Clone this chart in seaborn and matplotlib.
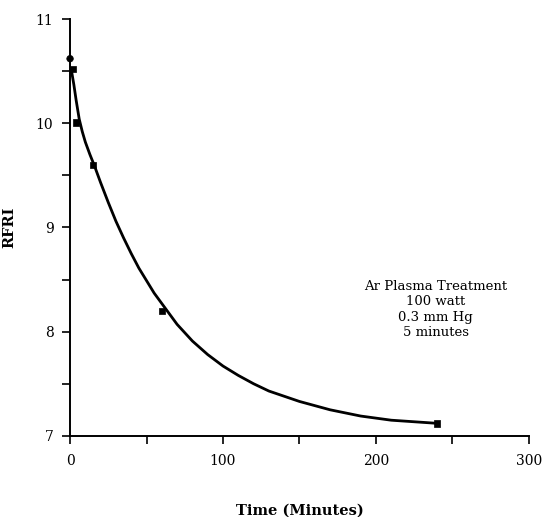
import matplotlib
matplotlib.use("Agg")
import matplotlib.pyplot as plt
from matplotlib.ticker import MultipleLocator
import pandas as pd
import seaborn as sns

# Measured RFRI after argon plasma treatment
time_min = [0, 2, 4, 15, 60, 240]
rfri = [10.62, 10.52, 10.01, 9.60, 8.20, 7.12]
marker_kind = ["circle", "square", "square", "square", "square", "square"]

# Decay curve drawn through the measurements
curve_t = [1, 2.5, 4, 6, 8, 10, 13, 16, 20, 25, 30, 35, 40, 45, 50, 55, 60,
           70, 80, 90, 100, 110, 120, 130, 140, 150, 160, 170, 180, 190, 200,
           210, 220, 230, 240]
curve_y = [10.50, 10.37, 10.22, 10.04, 9.92, 9.82, 9.70, 9.59, 9.43, 9.24,
           9.06, 8.90, 8.75, 8.61, 8.49, 8.37, 8.27, 8.07, 7.91, 7.78, 7.67,
           7.58, 7.50, 7.43, 7.38, 7.33, 7.29, 7.25, 7.22, 7.19, 7.17, 7.15,
           7.14, 7.13, 7.12]

x_ticks = [0, 100, 200, 300]
y_ticks = [7, 8, 9, 10, 11]

conditions = "Ar Plasma Treatment\n100 watt\n0.3 mm Hg\n5 minutes"

sns.set_style("ticks")
plt.rcParams["font.family"] = ["DejaVu Serif"]
plt.rcParams["text.color"] = "black"
plt.rcParams["axes.labelcolor"] = "black"

fig = plt.figure(figsize=(5.43, 5.17), dpi=100)
ax = fig.add_axes([0.129, 0.157, 0.845, 0.806])

points = pd.DataFrame({"t": time_min, "rfri": rfri, "kind": marker_kind})
curve = pd.DataFrame({"t": curve_t, "rfri": curve_y})

sns.lineplot(data=curve, x="t", y="rfri", estimator=None, sort=False,
             color="black", linewidth=2.0, ax=ax)
sns.scatterplot(data=points, x="t", y="rfri", style="kind",
                markers={"circle": "o", "square": "s"}, color="black",
                s=22, edgecolor="black", linewidth=0.5, legend=False,
                ax=ax, zorder=3, clip_on=False)

ax.set_xlim(0, 300)
ax.set_ylim(7, 11)
ax.set_xticks(x_ticks)
ax.set_yticks(y_ticks)
ax.xaxis.set_minor_locator(MultipleLocator(50))
ax.yaxis.set_minor_locator(MultipleLocator(0.5))
ax.tick_params(which="both", direction="out", length=6, width=1.2,
               color="black", labelsize=10, labelcolor="black")
ax.tick_params(axis="x", which="major", pad=7)
ax.tick_params(axis="y", which="major", pad=6)

for side in ("left", "bottom"):
    ax.spines[side].set_linewidth(1.4)
    ax.spines[side].set_color("black")
sns.despine(ax=ax)

ax.set_xlabel("Time (Minutes)", fontsize=10.5, fontweight="bold", labelpad=26,
              color="black")
ax.set_ylabel("RFRI", fontsize=10.5, fontweight="bold", labelpad=14,
              color="black")

ax.text(239, 8.215, conditions, ha="center", va="center", color="black",
        multialignment="center", fontsize=9.5, linespacing=1.25)

fig.savefig("out.png", dpi=100)
